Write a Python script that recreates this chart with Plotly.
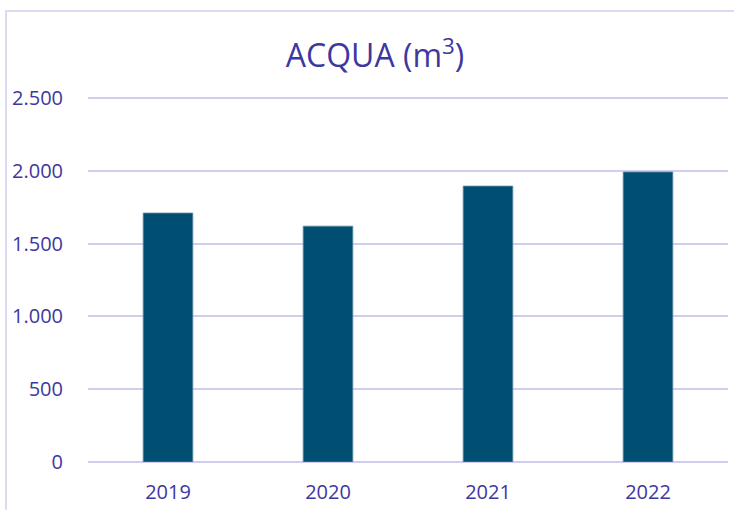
import plotly.graph_objects as go

years = ["2019", "2020", "2021", "2022"]
water_m3 = [1710, 1620, 1895, 1992]
y_ticks = [0, 500, 1000, 1500, 2000, 2500]

text_color = "#3E37A0"
grid_color = "#D2CDF0"

fig = go.Figure(
    go.Bar(
        x=years,
        y=water_m3,
        marker=dict(color="#004F72", line=dict(color="#5A8AA6", width=0.8)),
        width=0.31,
    )
)

fig.update_layout(
    width=734,
    height=510,
    margin=dict(l=88, r=6, t=96, b=48),
    paper_bgcolor="white",
    plot_bgcolor="white",
    separators=",.",
    showlegend=False,
    title=dict(
        text="ACQUA (m<sup>3</sup>)",
        x=0.511,
        xref="container",
        xanchor="center",
        y=1 - 56 / 510,
        yref="container",
        yanchor="middle",
        font=dict(family="Open Sans", size=32, color=text_color),
    ),
    font=dict(family="Open Sans", color=text_color),
)

fig.update_yaxes(
    range=[0, 2514],
    tickvals=y_ticks,
    tickformat=",",
    showgrid=True,
    gridcolor=grid_color,
    gridwidth=1.5,
    zeroline=True,
    zerolinecolor=grid_color,
    zerolinewidth=1.5,
    showline=False,
    ticks="",
    ticklabelstandoff=24,
    tickfont=dict(family="Open Sans", size=20, color=text_color),
)
fig.update_xaxes(
    showgrid=False,
    showline=False,
    ticks="",
    ticklabelstandoff=16,
    tickfont=dict(family="Open Sans", size=20, color=text_color),
)

# chart-area border (cropped at right and bottom)
fig.add_shape(
    type="rect",
    xref="paper",
    yref="paper",
    x0=(6 - 88) / 640,
    x1=1.3,
    y0=-0.4,
    y1=(462 - 11) / 366,
    line=dict(color=grid_color, width=1.5),
    layer="below",
)

fig.write_html(
    "out.html",
    config={"displayModeBar": False},
    post_script="document.body.style.margin='0';document.body.style.overflow='hidden';",
)
